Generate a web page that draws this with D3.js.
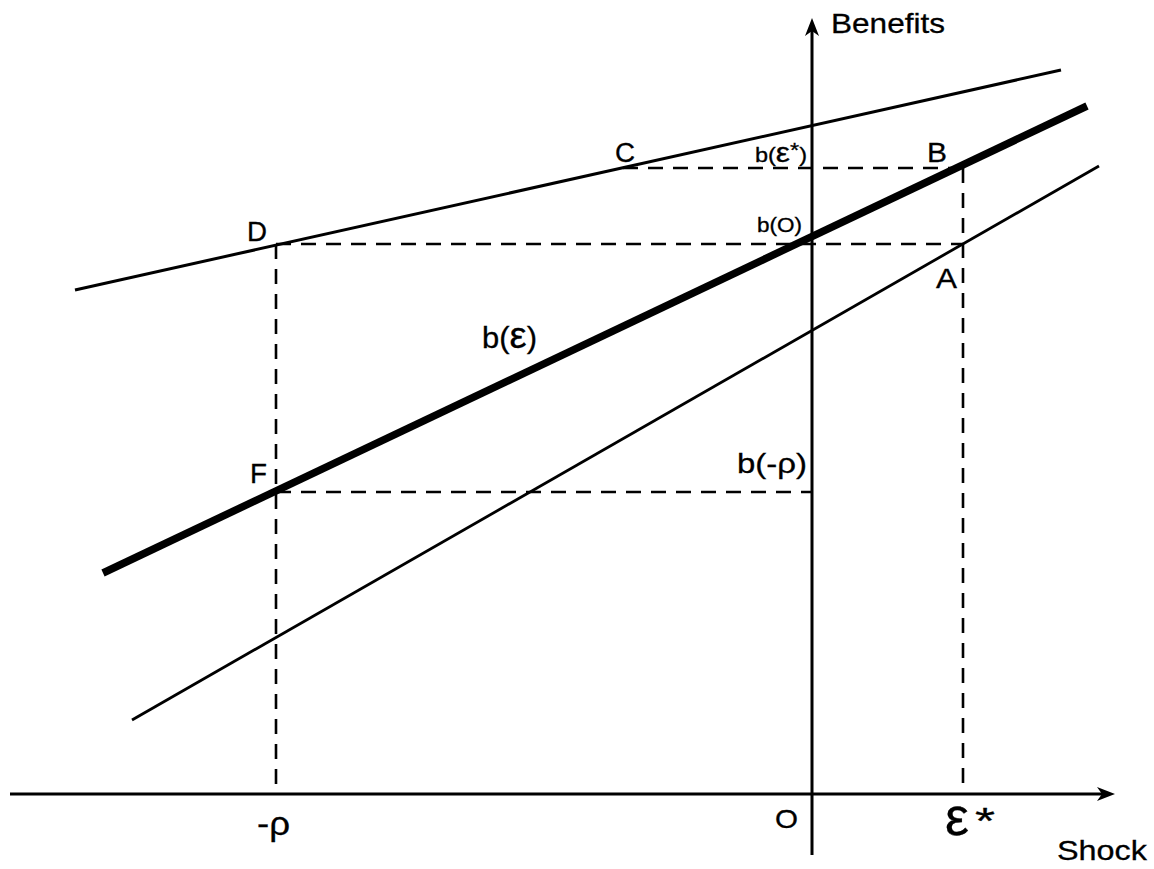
<!DOCTYPE html>
<html>
<head>
<meta charset="utf-8">
<script src="https://cdn.jsdelivr.net/npm/d3@7"></script>
<style>
  html, body { margin: 0; padding: 0; background: #fff; }
  svg { display: block; }
  text { font-family: "Liberation Sans", Arial, Helvetica, sans-serif; fill: #000; stroke: #000; stroke-width: 0.3; }
</style>
</head>
<body>
<svg id="chart" width="1154" height="869"></svg>
<script>
// ---------- data (arbitrary units: shock on x, benefits on y) ----------
const shockTickLabels = ["-ρ", "O", "ε", "*"];
const shockTickValues = [-5.36, 0, 1.51];

const benefitLevelLabels = ["b(ε*)", "b(O)", "b(-ρ)"];
const benefitLevelValues = [6.26, 5.50, 3.02];

// end points of the three lines [shock, benefit]
const upperLine = [[-7.37, 5.04], [2.49, 7.24]];
const benefitLine = [[-7.09, 2.21], [2.75, 6.88]];   // b(ε), thick
const lowerLine = [[-6.80, 0.74], [2.87, 6.28]];

const pointNames = ["C", "B", "D", "A", "F"];
const pointShock = [-1.89, 1.51, -5.36, 1.51, -5.36];
const pointBenefit = [6.26, 6.26, 5.50, 5.50, 3.02];

const axisLabels = ["Shock", "Benefits"];
const curveLabel = "b(ε)";

// ---------- scales ----------
const svg = d3.select("#chart");
const x = d3.scaleLinear().domain([-8.02, 3.03]).range([10, 1115]);
const y = d3.scaleLinear().domain([0, 7.76]).range([794, 18]);
const line = d3.line().x(d => x(d[0])).y(d => y(d[1]));

// ---------- dashed guides ----------
const guides = [
  [[pointShock[0], pointBenefit[0]], [pointShock[1], pointBenefit[1]]],     // C - B
  [[pointShock[2], pointBenefit[2]], [pointShock[3], pointBenefit[3]]],     // D - A
  [[pointShock[4], pointBenefit[4]], [shockTickValues[1], benefitLevelValues[2]]], // F - axis
  [[shockTickValues[0], pointBenefit[2]], [shockTickValues[0], 0]],         // vertical at -rho
  [[shockTickValues[2], pointBenefit[0]], [shockTickValues[2], 0]]          // vertical at eps*
];
svg.append("g").selectAll("path").data(guides).join("path")
  .attr("d", line)
  .attr("fill", "none").attr("stroke", "#000")
  .attr("stroke-width", 2.6)
  .attr("stroke-dasharray", "15,10");

// ---------- lines ----------
svg.append("path").attr("d", line(upperLine))
  .attr("fill", "none").attr("stroke", "#000").attr("stroke-width", 3);
svg.append("path").attr("d", line(lowerLine))
  .attr("fill", "none").attr("stroke", "#000").attr("stroke-width", 2.8);
svg.append("path").attr("d", line(benefitLine))
  .attr("fill", "none").attr("stroke", "#000").attr("stroke-width", 7.5);

// ---------- axes ----------
const x0 = x(0), y0 = y(0);
svg.append("line").attr("x1", x(-8.02)).attr("x2", x(3.03) - 8)
  .attr("y1", y0).attr("y2", y0).attr("stroke", "#000").attr("stroke-width", 3);
svg.append("line").attr("x1", x0).attr("x2", x0)
  .attr("y1", y(-0.61)).attr("y2", y(7.76) + 8).attr("stroke", "#000").attr("stroke-width", 3);
// arrowheads
const tipX = [x(3.03), y0], tipY = [x0, y(7.76)];
svg.append("path")
  .attr("d", `M${tipX[0]},${tipX[1]} L${tipX[0]-18},${tipX[1]-7} L${tipX[0]-13},${tipX[1]} L${tipX[0]-18},${tipX[1]+7} Z`)
  .attr("fill", "#000");
svg.append("path")
  .attr("d", `M${tipY[0]},${tipY[1]} L${tipY[0]-7},${tipY[1]+18} L${tipY[0]},${tipY[1]+13} L${tipY[0]+7},${tipY[1]+18} Z`)
  .attr("fill", "#000");

// ---------- text helper ----------
function label(txt, px, py, size, width, epsSize, starRaise) {
  const t = svg.append("text").attr("x", px).attr("y", py)
    .attr("font-size", size)
    .attr("textLength", width).attr("lengthAdjust", "spacingAndGlyphs");
  // render ε bigger (symbol-font look), raise * like a superscript
  const parts = txt.split(/(ε|\*)/);
  parts.forEach(p => {
    if (!p) return;
    const s = t.append("tspan").text(p);
    if (p === "ε" && epsSize) s.attr("font-size", epsSize);
    if (p === "*" && starRaise) s.attr("dy", -starRaise);
    if (p === ")" && starRaise && txt.includes("*")) s.attr("dy", starRaise);
  });
  return t;
}

// axis titles
label(axisLabels[0], 1057, 860, 28, 90);
label(axisLabels[1], 831, 33, 28, 114);

// tick labels on the shock axis
label(shockTickLabels[0], x(shockTickValues[0]) - 19, y0 + 41, 34, 33);
label(shockTickLabels[1], x(shockTickValues[1]) - 37, y0 + 34, 26, 23);
label(shockTickLabels[2], x(shockTickValues[2]) - 18, y0 + 41, 54, 24);
label(shockTickLabels[3], x(shockTickValues[2]) + 12, y0 + 40, 36, 20);

// benefit level labels (left of the vertical axis)
label(benefitLevelLabels[0], x0 - 57, y(benefitLevelValues[0]) - 6, 20, 52, 27, 5);
label(benefitLevelLabels[1], x0 - 55, y(benefitLevelValues[1]) - 12, 20, 45);
label(benefitLevelLabels[2], x0 - 75, y(benefitLevelValues[2]) - 19, 28, 70);

// point labels
const offs = [[-8, -6], [-36, -6], [-29, -3], [-27, 44], [-26, -9]];
const widths = [20, 20, 20, 21, 17];
pointNames.forEach((n, i) => {
  label(n, x(pointShock[i]) + offs[i][0], y(pointBenefit[i]) + offs[i][1], 27, widths[i]);
});

// curve label
label(curveLabel, 482, 348, 29, 55, 36);
</script>
</body>
</html>
